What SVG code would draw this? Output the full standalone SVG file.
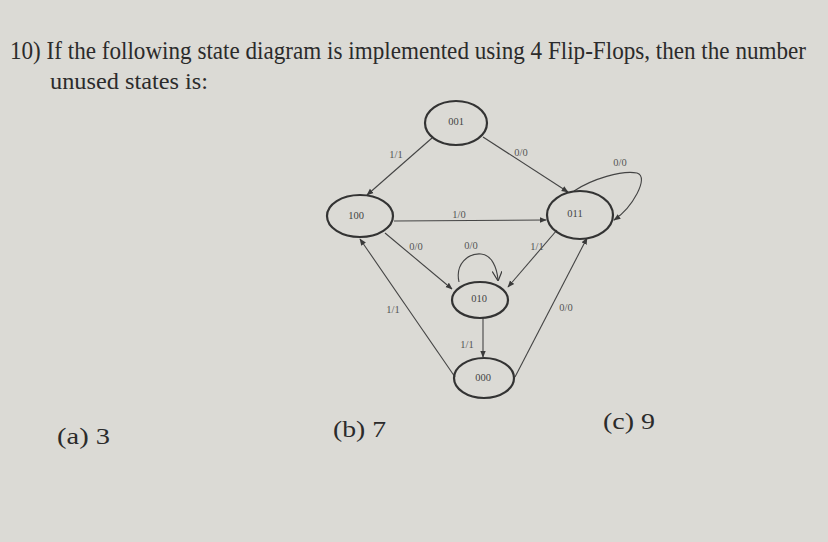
<svg xmlns="http://www.w3.org/2000/svg" width="828" height="542" viewBox="0 0 828 542">
<defs>
<marker id="ah" viewBox="0 0 10 10" refX="9" refY="5" markerWidth="7" markerHeight="7" orient="auto-start-reverse" markerUnits="userSpaceOnUse">
<path d="M0,1 L10,5 L0,9 z" fill="#3a3a3a"/>
</marker>
<marker id="open" viewBox="0 0 10 10" refX="9" refY="5" markerWidth="10" markerHeight="10" orient="auto" markerUnits="userSpaceOnUse">
<path d="M0,0 L10,5 L0,10" fill="none" stroke="#3a3a3a" stroke-width="1.2"/>
</marker>
</defs>
<style>
.q{font-family:"Liberation Serif",serif;fill:#2b2b2b}
.st{fill:none;stroke:#333;stroke-width:2.2}
.nl{font-family:"Liberation Serif",serif;font-size:10.5px;fill:#444;text-anchor:middle}
.el{font-family:"Liberation Serif",serif;font-size:10.5px;fill:#555;text-anchor:middle}
.ed{fill:none;stroke:#444;stroke-width:1.1}
</style>
<rect width="828" height="542" fill="#dbdad5"/>
<text class="q" transform="translate(10,59) scale(1,1.15)" x="0" y="0" font-size="22" textLength="796" lengthAdjust="spacingAndGlyphs">10) If the following state diagram is implemented using 4 Flip-Flops, then the number</text>
<text class="q" x="50" y="89" font-size="24" textLength="158" lengthAdjust="spacingAndGlyphs">unused states is:</text>
<text class="q" x="57" y="444" font-size="24" fill="#444" textLength="53" lengthAdjust="spacingAndGlyphs">(a) 3</text>
<text class="q" x="333" y="437" font-size="24" textLength="53" lengthAdjust="spacingAndGlyphs">(b) 7</text>
<text class="q" x="603" y="429" font-size="24" textLength="52" lengthAdjust="spacingAndGlyphs">(c) 9</text>

<g id="connectors">
<line class="ed" x1="432" y1="138" x2="367" y2="195" marker-end="url(#ah)"/>
<line class="ed" x1="483" y1="137" x2="568" y2="192" marker-end="url(#ah)"/>
<path class="ed" d="M574,191 C592,179 622,170 637,173 C650,177 632,208 614,220" marker-end="url(#ah)"/>
<line class="ed" x1="394" y1="221" x2="546" y2="220" marker-end="url(#ah)"/>
<line class="ed" x1="385" y1="233" x2="452" y2="289" marker-end="url(#ah)"/>
<path class="ed" d="M459,282 C455,264 468,253 481,254 C492,255 497,268 498,280" marker-end="url(#open)"/>
<line class="ed" x1="557" y1="230" x2="508" y2="287" marker-end="url(#ah)"/>
<line class="ed" x1="483" y1="318" x2="483" y2="357" marker-end="url(#ah)"/>
<line class="ed" x1="455" y1="377" x2="360" y2="239" marker-end="url(#ah)"/>
<line class="ed" x1="515" y1="377" x2="587" y2="238" marker-end="url(#ah)"/>
<text class="el" x="396" y="158">1/1</text>
<text class="el" x="521" y="156">0/0</text>
<text class="el" x="620" y="166">0/0</text>
<text class="el" x="459" y="218">1/0</text>
<text class="el" x="416" y="250">0/0</text>
<text class="el" x="471" y="249">0/0</text>
<text class="el" x="537" y="250">1/1</text>
<text class="el" x="393" y="313">1/1</text>
<text class="el" x="566" y="311">0/0</text>
<text class="el" x="467" y="348">1/1</text>
</g>

<g id="n001"><ellipse class="st" cx="456" cy="123" rx="31" ry="22"/><text class="nl" x="456" y="125">001</text></g>
<g id="n100"><ellipse class="st" cx="360" cy="216" rx="33" ry="21"/><text class="nl" x="356" y="219">100</text></g>
<g id="n011"><ellipse class="st" cx="580" cy="215" rx="33" ry="24"/><text class="nl" x="575" y="217">011</text></g>
<g id="n010"><ellipse class="st" cx="480" cy="300" rx="28" ry="18"/><text class="nl" x="479" y="302">010</text></g>
<g id="n000"><ellipse class="st" cx="484" cy="378" rx="30" ry="20"/><text class="nl" x="483" y="381">000</text></g>
</svg>
